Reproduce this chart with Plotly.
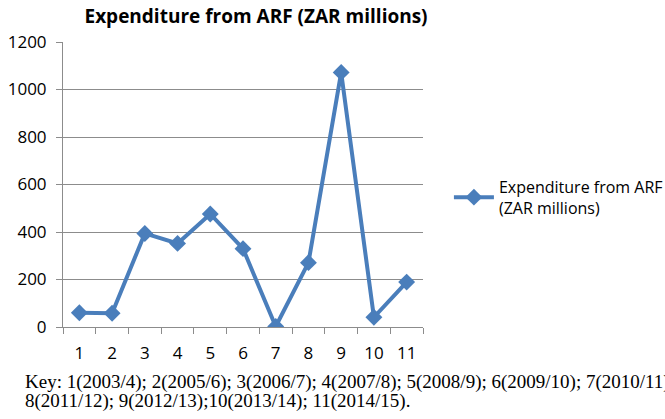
import plotly.graph_objects as go

categories = [1, 2, 3, 4, 5, 6, 7, 8, 9, 10, 11]
values = [60, 58, 394, 352, 476, 330, 2, 271, 1072, 41, 189]
y_ticks = [0, 200, 400, 600, 800, 1000, 1200]
series_name = "Expenditure from ARF<br>(ZAR millions)"
title_text = "<b>Expenditure from ARF (ZAR millions)</b>"
key_line1 = "Key: 1(2003/4); 2(2005/6); 3(2006/7); 4(2007/8); 5(2008/9); 6(2009/10); 7(2010/11);"
key_line2 = "8(2011/12); 9(2012/13);10(2013/14); 11(2014/15)."

blue = "#4A7EBB"
grey = "#8C8C8C"
sans = "Open Sans, Liberation Sans, sans-serif"
serif = "Liberation Serif, Times New Roman, serif"

fig = go.Figure()
fig.add_trace(go.Scatter(
    x=categories, y=values, mode="lines+markers", name=series_name,
    line=dict(color=blue, width=4),
    marker=dict(symbol="diamond", size=13, color=blue),
    showlegend=True,
))

fig.update_layout(
    width=665, height=419,
    margin=dict(l=63, r=242, t=42, b=92, autoexpand=False),
    paper_bgcolor="white", plot_bgcolor="white",
    font=dict(family=sans, size=17, color="#000000"),
    title=dict(text=title_text, x=0.385, xanchor="center", xref="container",
               y=0.962, yanchor="middle", yref="container",
               font=dict(size=19, family=sans, color="#000")),
    showlegend=True,
    legend=dict(x=1.072, xanchor="left", y=0.455, yanchor="middle",
                font=dict(size=16), bgcolor="rgba(0,0,0,0)", itemwidth=40),
    xaxis=dict(
        range=[0.5, 11.5], tickmode="array", tickvals=categories,
        ticktext=[str(c) for c in categories],
        ticks="", showgrid=False, zeroline=False,
        showline=True, linecolor=grey, linewidth=1,
        ticklabelstandoff=11,
        minor=dict(tickmode="linear", tick0=0.5, dtick=1, ticks="outside",
                   ticklen=6, tickcolor=grey, showgrid=False),
        fixedrange=True, automargin=False,
    ),
    yaxis=dict(
        range=[0, 1200], tickmode="array", tickvals=y_ticks,
        ticks="outside", ticklen=6, tickcolor=grey,
        showgrid=True, gridcolor=grey, gridwidth=1,
        zeroline=False, showline=True, linecolor=grey, linewidth=1,
        ticklabelstandoff=6,
        fixedrange=True, automargin=False,
    ),
)

fig.add_annotation(
    text=key_line1, xref="paper", yref="paper",
    x=-40 / 360, xanchor="left", y=-55 / 285, yanchor="middle",
    showarrow=False, align="left",
    font=dict(family=serif, size=19, color="#000"),
)
fig.add_annotation(
    text=key_line2, xref="paper", yref="paper",
    x=-40 / 360, xanchor="left", y=-74 / 285, yanchor="middle",
    showarrow=False, align="left",
    font=dict(family=serif, size=19, color="#000"),
)

fig.write_html("out.html", config={"displayModeBar": False},
               post_script="document.body.style.margin='0';")
